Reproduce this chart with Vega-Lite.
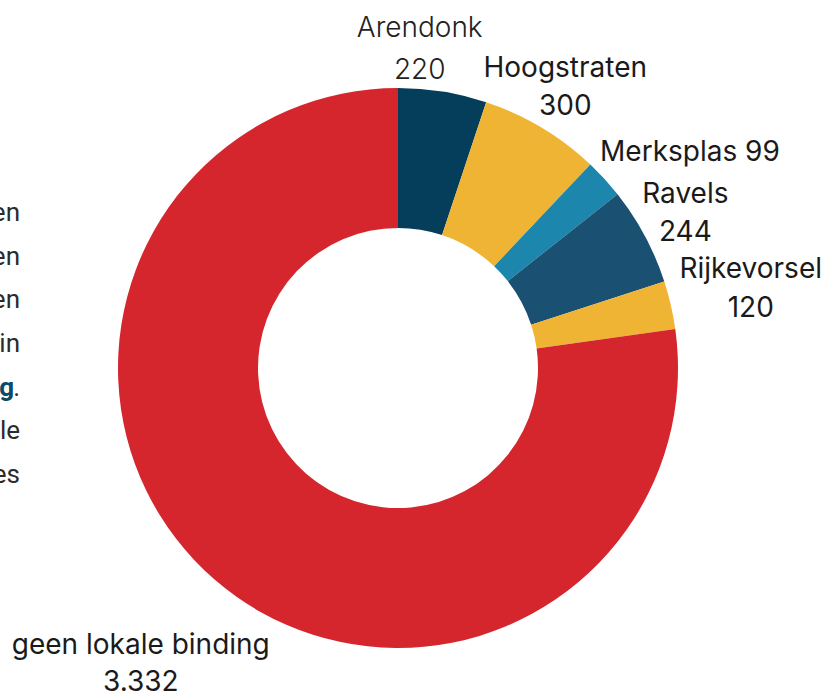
{
  "$schema": "https://vega.github.io/schema/vega-lite/v6.json",
  "width": 796,
  "height": 658,
  "autosize": "none",
  "padding": {"left": 0, "top": 39, "right": 37, "bottom": 0},
  "background": "white",
  "config": {"view": {"stroke": null}, "font": "Inter"},
  "datasets": {
    "gemeenten": [
      {"idx": 1, "name": "Arendonk", "value": 220, "label": ["Arendonk", "220"]},
      {"idx": 2, "name": "Hoogstraten", "value": 300, "label": ["Hoogstraten", "300"]},
      {"idx": 3, "name": "Merksplas", "value": 99, "label": ["Merksplas 99"]},
      {"idx": 4, "name": "Ravels", "value": 244, "label": ["Ravels", "244"]},
      {"idx": 5, "name": "Rijkevorsel", "value": 120, "label": ["Rijkevorsel", "120"]},
      {"idx": 6, "name": "geen lokale binding", "value": 3332, "label": ["geen lokale binding", "3.332"]}
    ],
    "fragments": [
      {"line": 1, "text": "en"},
      {"line": 2, "text": "en"},
      {"line": 3, "text": "en"},
      {"line": 4, "text": "in"},
      {"line": 5, "text": "."},
      {"line": 6, "text": "le"},
      {"line": 7, "text": "es"}
    ]
  },
  "layer": [
    {
      "data": {"name": "gemeenten"},
      "mark": {"type": "arc", "radius": 280, "innerRadius": 140},
      "encoding": {
        "theta": {"field": "value", "type": "quantitative", "stack": true},
        "order": {"field": "idx", "type": "quantitative"},
        "color": {
          "field": "name",
          "type": "nominal",
          "legend": null,
          "scale": {
            "domain": ["Arendonk", "Hoogstraten", "Merksplas", "Ravels", "Rijkevorsel", "geen lokale binding"],
            "range": ["#043e5a", "#efb434", "#1c86ac", "#1a5172", "#efb434", "#d5262e"]
          }
        }
      }
    },
    {
      "data": {"name": "gemeenten"},
      "mark": {"type": "text", "radius": 318, "dx": -29, "dy": -25, "fontSize": 28, "fontWeight": 300, "lineHeight": 42, "align": "center", "baseline": "middle", "color": "#222222"},
      "encoding": {
        "theta": {"field": "value", "type": "quantitative", "stack": true},
        "order": {"field": "idx", "type": "quantitative"},
        "text": {"condition": {"test": "datum.name === 'Arendonk'", "field": "label"}, "value": ""}
      }
    },
    {
      "data": {"name": "gemeenten"},
      "mark": {"type": "text", "radius": 326, "dy": -19, "fontSize": 28, "lineHeight": 38, "align": "center", "baseline": "middle", "color": "#1a1a1a"},
      "encoding": {
        "theta": {"field": "value", "type": "quantitative", "stack": true},
        "order": {"field": "idx", "type": "quantitative"},
        "text": {"condition": {"test": "datum.name === 'Hoogstraten' || datum.name === 'Ravels'", "field": "label"}, "value": ""}
      }
    },
    {
      "data": {"name": "gemeenten"},
      "mark": {"type": "text", "radius": 362, "dx": 25, "dy": 30, "fontSize": 28, "align": "center", "baseline": "middle", "color": "#1a1a1a"},
      "encoding": {
        "theta": {"field": "value", "type": "quantitative", "stack": true},
        "order": {"field": "idx", "type": "quantitative"},
        "text": {"condition": {"test": "datum.name === 'Merksplas'", "field": "label"}, "value": ""}
      }
    },
    {
      "data": {"name": "gemeenten"},
      "mark": {"type": "text", "radius": 362, "dy": -17, "fontSize": 28, "lineHeight": 39, "align": "center", "baseline": "middle", "color": "#1a1a1a"},
      "encoding": {
        "theta": {"field": "value", "type": "quantitative", "stack": true},
        "order": {"field": "idx", "type": "quantitative"},
        "text": {"condition": {"test": "datum.name === 'Rijkevorsel'", "field": "label"}, "value": ""}
      }
    },
    {
      "data": {"name": "gemeenten"},
      "mark": {"type": "text", "radius": 392, "dy": -18, "fontSize": 28, "lineHeight": 37, "align": "center", "baseline": "middle", "color": "#1a1a1a"},
      "encoding": {
        "theta": {"field": "value", "type": "quantitative", "stack": true},
        "order": {"field": "idx", "type": "quantitative"},
        "text": {"condition": {"test": "datum.name === 'geen lokale binding'", "field": "label"}, "value": ""}
      }
    },
    {
      "data": {"name": "fragments"},
      "mark": {"type": "text", "align": "right", "baseline": "middle", "font": "Roboto", "fontSize": 26, "color": "#2b2b2b", "x": 20},
      "encoding": {
        "y": {"field": "line", "type": "ordinal", "axis": null, "scale": {"type": "point", "padding": 0, "range": [174, 436]}},
        "text": {"field": "text"}
      }
    },
    {
      "data": {"name": "fragments"},
      "mark": {"type": "text", "align": "right", "baseline": "middle", "font": "Roboto", "fontSize": 26, "fontWeight": "bold", "color": "#0b4a6b", "x": 14},
      "encoding": {
        "y": {"field": "line", "type": "ordinal", "axis": null, "scale": {"type": "point", "padding": 0, "range": [174, 436]}},
        "text": {"condition": {"test": "datum.line === 5", "value": "g"}, "value": ""}
      }
    }
  ]
}
